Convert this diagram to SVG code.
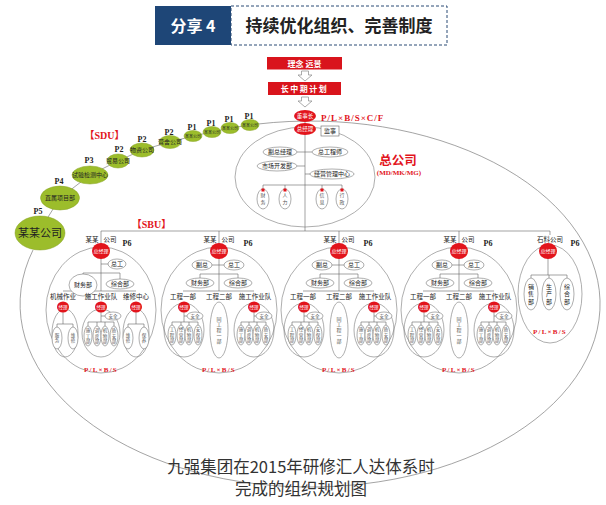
<svg xmlns="http://www.w3.org/2000/svg" width="606" height="505" viewBox="0 0 606 505">
<style>
.l{fill:none;stroke:#666;stroke-width:.6}
.o{fill:#fff;stroke:#777;stroke-width:.6}
.of{fill:none;stroke:#777;stroke-width:.6}
.rd{fill:#e2141c}
.gr{fill:#9cbd2b;stroke:#86a322;stroke-width:.5}
text{font-family:"Noto Sans CJK SC","Noto Sans CJK JP",sans-serif;fill:#222}
.m{text-anchor:middle}
.e{text-anchor:end}
.w{fill:#fff}
.g5{fill:#555}
.v{text-anchor:middle;fill:#555}
.vd{fill:#222}
.pl{font-family:"Liberation Serif","Noto Sans CJK SC",serif;font-weight:bold;fill:#e2141c;text-anchor:middle}
.pp{font-family:"Liberation Serif",serif;font-weight:bold;fill:#222;text-anchor:middle}
.redt{fill:#e2141c}
.cap{fill:#333}
</style>
<defs>
<g id="sbuT">
<ellipse class="of" cx="0" cy="310" rx="58" ry="63"/>
<path class="l" d="M0 231 V291 M-7 265 H5 M-19 278 V274 H19 V278 M-36 291 H35 M-35 312 V322 M-35 316 H-32 M-47 326 V322 H-21 V326 M-38 322 V326 M-30 322 V326 M35 312 V322 M35 316 H37 M22 326 V322 H47 V326 M30 322 V326 M38 322 V326"/>
<text class="e" x="-2.5" y="242" font-size="6.5">某某</text>
<text x="2.5" y="242" font-size="6.5">公司</text>
<text class="pp" x="29" y="246" font-size="8">P6</text>
<ellipse class="rd" cx="0" cy="251" rx="9" ry="8"/>
<text class="m w" x="0" y="253" font-size="5">总经理</text>
<ellipse class="o" cx="-17" cy="265" rx="10" ry="5"/><text class="m" x="-17" y="267.2" font-size="6">副总</text>
<ellipse class="o" cx="15" cy="265" rx="10" ry="5"/><text class="m" x="15" y="267.2" font-size="6">总工</text>
<ellipse class="o" cx="-19" cy="283" rx="14" ry="5"/><text class="m" x="-19" y="285.2" font-size="6">财务部</text>
<ellipse class="o" cx="19" cy="283" rx="14" ry="5"/><text class="m" x="19" y="285.2" font-size="6">综合部</text>
<text class="m" x="-36" y="299" font-size="6.5">工程一部</text>
<text class="m" x="0" y="299" font-size="6.5">工程二部</text>
<text class="m" x="36" y="299" font-size="6.5">施工作业队</text>
<ellipse class="of" cx="-35" cy="330" rx="20" ry="27"/>
<ellipse class="rd" cx="-35" cy="307" rx="6" ry="5.5"/><text class="m w" x="-35" y="308.6" font-size="4.5">经理</text>
<ellipse class="o" cx="-24" cy="316" rx="8" ry="4"/><text class="m g5" x="-24" y="317.7" font-size="4.5">安全</text>
<ellipse class="o" cx="-47" cy="335" rx="4" ry="10"/><text class="v" x="-47" y="331.4" font-size="4.5"><tspan x="-47">工</tspan><tspan x="-47" dy="5.2">程</tspan><tspan x="-47" dy="5.2">部</tspan></text>
<ellipse class="o" cx="-38" cy="335" rx="4" ry="10"/><text class="v" x="-38" y="331.4" font-size="4.5"><tspan x="-38">经</tspan><tspan x="-38" dy="5.2">营</tspan><tspan x="-38" dy="5.2">部</tspan></text>
<ellipse class="o" cx="-30" cy="335" rx="4" ry="10"/><text class="v" x="-30" y="331.4" font-size="4.5"><tspan x="-30">机</tspan><tspan x="-30" dy="5.2">物</tspan><tspan x="-30" dy="5.2">部</tspan></text>
<ellipse class="o" cx="-21" cy="335" rx="4" ry="10"/><text class="v" x="-21" y="331.4" font-size="4.5"><tspan x="-21">安</tspan><tspan x="-21" dy="5.2">保</tspan><tspan x="-21" dy="5.2">部</tspan></text>
<ellipse class="of" cx="0" cy="330" rx="9" ry="28"/>
<text class="v" x="0" y="320.6" font-size="5"><tspan x="0">同</tspan><tspan x="0" dy="5.6">工</tspan><tspan x="0" dy="5.6">程</tspan><tspan x="0" dy="5.6">一</tspan><tspan x="0" dy="5.6">部</tspan></text>
<ellipse class="of" cx="35" cy="330" rx="20" ry="27"/>
<ellipse class="rd" cx="35" cy="307" rx="6" ry="5.5"/><text class="m w" x="35" y="308.6" font-size="4.5">经理</text>
<ellipse class="o" cx="45" cy="316" rx="8" ry="4"/><text class="m g5" x="45" y="317.7" font-size="4.5">安全</text>
<ellipse class="o" cx="22" cy="335" rx="4" ry="10"/><text class="v" x="22" y="331.4" font-size="4.5"><tspan x="22">施</tspan><tspan x="22" dy="5.2">工</tspan><tspan x="22" dy="5.2">部</tspan></text>
<ellipse class="o" cx="30" cy="335" rx="4" ry="10"/><text class="v" x="30" y="331.4" font-size="4.5"><tspan x="30">调</tspan><tspan x="30" dy="5.2">度</tspan><tspan x="30" dy="5.2">部</tspan></text>
<ellipse class="o" cx="38" cy="335" rx="4" ry="10"/><text class="v" x="38" y="331.4" font-size="4.5"><tspan x="38">机</tspan><tspan x="38" dy="5.2">物</tspan><tspan x="38" dy="5.2">部</tspan></text>
<ellipse class="o" cx="47" cy="335" rx="4" ry="10"/><text class="v" x="47" y="331.4" font-size="4.5"><tspan x="47">质</tspan><tspan x="47" dy="5.2">安</tspan><tspan x="47" dy="5.2">部</tspan></text>
<text class="pl" x="0" y="372" font-size="7" letter-spacing="1.2">P/L×B/S</text>
</g>
</defs>

<rect width="606" height="505" fill="#fff"/>

<g id="header">
<rect x="155" y="6" width="76" height="39" fill="#1e4677"/>
<text class="m w" x="193" y="31.5" font-size="16" font-weight="bold">分享 4</text>
<rect x="231" y="6" width="216" height="39" fill="none" stroke="#2b4a74" stroke-width="1" stroke-dasharray="3 2"/>
<text class="m" x="339" y="32" font-size="17" font-weight="bold">持续优化组织、完善制度</text>
</g>

<g id="connectors">
<path class="l" d="M258 124 A290 183 0 1 1 33 250"/>
<polyline class="l" points="258,124 250,125 230,128 212,132 193,136 170,142 142,150 118,161 90,175 60,198 38,233"/>
<path d="M301.5 71 H308.5 V75 H312 L305 81 L298 75 H301.5 Z" fill="#fff" stroke="#888" stroke-width=".7"/>
<path d="M301.5 97 H308.5 V101 H312 L305 107 L298 101 H301.5 Z" fill="#fff" stroke="#888" stroke-width=".7"/>
<path class="l" d="M101 231 H550"/>
</g>

<g id="vision">
<rect x="267" y="57" width="75" height="12.5" fill="#d9141c"/>
<text class="m w" x="304.5" y="66.5" font-size="8" font-weight="bold">理念  远景</text>
</g>
<g id="plan">
<rect x="268" y="82" width="73" height="13" fill="#d9141c"/>
<text class="m w" x="304.5" y="91.8" font-size="8" font-weight="bold" letter-spacing="1.5">长中期计划</text>
</g>

<g id="sdu">
<text class="pl" x="104.5" y="139" font-size="10">【SDU】</text>
<ellipse class="gr" cx="250" cy="125" rx="9" ry="5.5"/><text class="m" x="250" y="126.5" font-size="4">某某公司</text><text class="pp" x="249" y="119" font-size="8">P1</text>
<ellipse class="gr" cx="230" cy="128" rx="9" ry="5.5"/><text class="m" x="230" y="129.5" font-size="4">某某公司</text><text class="pp" x="229" y="121.5" font-size="8">P1</text>
<ellipse class="gr" cx="212" cy="132" rx="9" ry="5.5"/><text class="m" x="212" y="133.5" font-size="4">某某公司</text><text class="pp" x="211" y="125.5" font-size="8">P1</text>
<ellipse class="gr" cx="193" cy="136" rx="9" ry="5.5"/><text class="m" x="193" y="137.5" font-size="4">某某公司</text><text class="pp" x="192" y="129.5" font-size="8">P1</text>
<ellipse class="gr" cx="170" cy="142" rx="11" ry="6.5"/><text class="m" x="170" y="144.2" font-size="6">营舍公司</text><text class="pp" x="169" y="134.5" font-size="8">P2</text>
<ellipse class="gr" cx="142" cy="150" rx="12" ry="7"/><text class="m" x="142" y="152.2" font-size="6">物资公司</text><text class="pp" x="142" y="142" font-size="8">P2</text>
<ellipse class="gr" cx="118" cy="161" rx="11" ry="7"/><text class="m" x="118" y="163.2" font-size="6">贸易公司</text><text class="pp" x="119" y="152" font-size="8">P2</text>
<ellipse class="gr" cx="90" cy="175" rx="18" ry="9"/><text class="m" x="90" y="177.2" font-size="6">试验检测中心</text><text class="pp" x="89" y="163" font-size="8">P3</text>
<ellipse class="gr" cx="60" cy="198" rx="19.5" ry="12"/><text class="m" x="60" y="200.2" font-size="6">直属项目部</text><text class="pp" x="59" y="184" font-size="8">P4</text>
<ellipse class="gr" cx="40" cy="233" rx="25" ry="17"/><text class="m" x="40" y="237" font-size="11">某某公司</text><text class="pp" x="38" y="214" font-size="8">P5</text>
</g>

<g id="hq">
<ellipse class="of" cx="305" cy="177" rx="70" ry="50"/>
<path class="l" d="M305 122 V231 M297 152 H312 M297 166 H305 M305 174 H310 M263 189 V185 H342 V189 M285 185 V189 M322 185 V189"/>
<ellipse class="rd" cx="305" cy="116" rx="11" ry="6"/><text class="m w" x="305" y="118" font-size="5.5">董事长</text>
<text class="pl" x="321" y="120.5" font-size="9" letter-spacing="1" style="text-anchor:start">P/L×B/S×C/F</text>
<ellipse class="rd" cx="305" cy="129" rx="11" ry="6"/><text class="m w" x="305" y="131" font-size="5.5">总经理</text>
<rect x="321" y="126" width="18" height="10" fill="#fff" stroke="#666" stroke-width=".6"/><text class="m" x="330" y="133.2" font-size="6">监事</text>
<ellipse class="o" cx="280" cy="152" rx="17" ry="5"/><text class="m" x="280" y="154.2" font-size="6">副总经理</text>
<ellipse class="o" cx="330" cy="152" rx="18" ry="5"/><text class="m" x="330" y="154.2" font-size="6">总工程师</text>
<ellipse class="o" cx="277" cy="166" rx="20" ry="5"/><text class="m" x="277" y="168.2" font-size="6">市场开发部</text>
<ellipse class="o" cx="332" cy="174" rx="22" ry="5"/><text class="m" x="332" y="176.2" font-size="6">经营管理中心</text>
<ellipse class="o" cx="263" cy="199" rx="6" ry="10"/><rect x="261.5" y="188.5" width="3" height="3" class="rd"/><text class="v" x="263" y="197.3" font-size="5"><tspan x="263">财</tspan><tspan x="263" dy="7">务</tspan></text>
<ellipse class="o" cx="285" cy="199" rx="6" ry="10"/><rect x="283.5" y="188.5" width="3" height="3" class="rd"/><text class="v" x="285" y="197.3" font-size="5"><tspan x="285">人</tspan><tspan x="285" dy="7">力</tspan></text>
<ellipse class="o" cx="322" cy="199" rx="6" ry="10"/><rect x="320.5" y="188.5" width="3" height="3" class="rd"/><text class="v" x="322" y="197.3" font-size="5"><tspan x="322">信</tspan><tspan x="322" dy="7">息</tspan></text>
<ellipse class="o" cx="342" cy="199" rx="6" ry="10"/><rect x="340.5" y="188.5" width="3" height="3" class="rd"/><text class="v" x="342" y="197.3" font-size="5"><tspan x="342">行</tspan><tspan x="342" dy="7">政</tspan></text>
<text class="m redt" x="398" y="165" font-size="12.5" font-weight="bold">总公司</text>
<text class="pl" x="399" y="174.5" font-size="7">(MD/MK/MG)</text>
</g>

<text class="pl" x="151.5" y="228" font-size="10">【SBU】</text>

<g id="sbu1">
<ellipse class="of" cx="101" cy="310" rx="55" ry="63"/>
<path class="l" d="M101 231 V291 M101 264 H108 M83 274 V273 H120 V279 M63 291 H136 M101 312 V322 M101 316 H105 M88 326 V322 H114 V326 M97 322 V326 M105 322 V326 M63 312 V324 M57 327 V324 H73 V327 M136 312 V324 M128 327 V324 H144 V327"/>
<text class="e" x="98.5" y="242" font-size="6.5">某某</text>
<text x="103.5" y="242" font-size="6.5">公司</text>
<text class="pp" x="127" y="246" font-size="8">P6</text>
<ellipse class="rd" cx="101" cy="251" rx="9" ry="8"/><text class="m w" x="101" y="253" font-size="5">总经理</text>
<ellipse class="o" cx="117" cy="264" rx="9" ry="5"/><text class="m" x="117" y="266.2" font-size="6">总工</text>
<ellipse class="o" cx="83" cy="285" rx="14" ry="11"/><text class="m" x="83" y="287.2" font-size="6">财务部</text>
<ellipse class="o" cx="120" cy="284" rx="14" ry="5"/><text class="m" x="120" y="286.2" font-size="6">综合部</text>
<text class="m" x="63" y="299" font-size="6.5">机械作业</text>
<text class="m" x="101" y="299" font-size="6.5">施工作业队</text>
<text class="m" x="136" y="299" font-size="6.5">维修中心</text>
<ellipse class="of" cx="65" cy="333" rx="13" ry="24"/>
<ellipse class="of" cx="101" cy="333" rx="19" ry="24"/>
<ellipse class="of" cx="136" cy="333" rx="13" ry="24"/>
<ellipse class="rd" cx="63" cy="307" rx="6" ry="5.5"/><text class="m w" x="63" y="308.6" font-size="4.5">经理</text>
<ellipse class="rd" cx="101" cy="307" rx="6" ry="5.5"/><text class="m w" x="101" y="308.6" font-size="4.5">经理</text>
<ellipse class="rd" cx="136" cy="307" rx="6" ry="5.5"/><text class="m w" x="136" y="308.6" font-size="4.5">经理</text>
<ellipse class="o" cx="113" cy="316" rx="8" ry="4"/><text class="m g5" x="113" y="317.7" font-size="4.5">安全</text>
<ellipse class="o" cx="57" cy="338" rx="5" ry="11"/><text class="v" x="57" y="337" font-size="4.5"><tspan x="57">服</tspan><tspan x="57" dy="5.2">务</tspan></text>
<ellipse class="o" cx="73" cy="338" rx="5" ry="11"/><text class="v" x="73" y="337" font-size="4.5"><tspan x="73">维</tspan><tspan x="73" dy="5.2">修</tspan></text>
<ellipse class="o" cx="88" cy="336" rx="4" ry="10"/><text class="v" x="88" y="332.4" font-size="4.5"><tspan x="88">施</tspan><tspan x="88" dy="5.2">工</tspan><tspan x="88" dy="5.2">部</tspan></text>
<ellipse class="o" cx="97" cy="336" rx="4" ry="10"/><text class="v" x="97" y="332.4" font-size="4.5"><tspan x="97">调</tspan><tspan x="97" dy="5.2">度</tspan><tspan x="97" dy="5.2">部</tspan></text>
<ellipse class="o" cx="105" cy="336" rx="4" ry="10"/><text class="v" x="105" y="332.4" font-size="4.5"><tspan x="105">机</tspan><tspan x="105" dy="5.2">物</tspan><tspan x="105" dy="5.2">部</tspan></text>
<ellipse class="o" cx="114" cy="336" rx="4" ry="10"/><text class="v" x="114" y="332.4" font-size="4.5"><tspan x="114">质</tspan><tspan x="114" dy="5.2">安</tspan><tspan x="114" dy="5.2">部</tspan></text>
<ellipse class="o" cx="128" cy="338" rx="5" ry="11"/><text class="v" x="128" y="337" font-size="4.5"><tspan x="128">维</tspan><tspan x="128" dy="5.2">修</tspan></text>
<ellipse class="o" cx="144" cy="338" rx="5" ry="11"/><text class="v" x="144" y="337" font-size="4.5"><tspan x="144">保</tspan><tspan x="144" dy="5.2">养</tspan></text>
<text class="pl" x="101" y="372" font-size="7" letter-spacing="1.2">P/L×B/S</text>
</g>

<g id="sbu2"><use href="#sbuT" x="219"/></g>
<g id="sbu3"><use href="#sbuT" x="339"/></g>
<g id="sbu4"><use href="#sbuT" x="459"/></g>

<g id="sbu5">
<ellipse class="of" cx="550" cy="294" rx="32" ry="49"/>
<path class="l" d="M550 231 V235 M548 256 V275 M531 278 V275 H567 V278 M549 275 V278"/>
<text class="m" x="550" y="242" font-size="6.5">石料公司</text>
<text class="pp" x="575" y="246" font-size="8">P6</text>
<ellipse class="rd" cx="548" cy="251" rx="9" ry="8"/><text class="m w" x="548" y="253" font-size="5">总经理</text>
<ellipse class="o" cx="531" cy="294" rx="7" ry="16"/><text class="v vd" x="531" y="288.6" font-size="6"><tspan x="531">销</tspan><tspan x="531" dy="7.5">售</tspan><tspan x="531" dy="7.5">部</tspan></text>
<ellipse class="o" cx="549" cy="294" rx="7" ry="16"/><text class="v vd" x="549" y="288.6" font-size="6"><tspan x="549">生</tspan><tspan x="549" dy="7.5">产</tspan><tspan x="549" dy="7.5">部</tspan></text>
<ellipse class="o" cx="567" cy="294" rx="7" ry="16"/><text class="v vd" x="567" y="288.6" font-size="6"><tspan x="567">综</tspan><tspan x="567" dy="7.5">合</tspan><tspan x="567" dy="7.5">部</tspan></text>
<text class="pl" x="550" y="334" font-size="7" letter-spacing="1.2">P/L×B/S</text>
</g>

<g id="caption">
<text class="m cap" x="301" y="473" font-size="16.5">九强集团在2015年研修汇人达体系时</text>
<text class="m cap" x="301" y="495" font-size="16.5">完成的组织规划图</text>
</g>
</svg>
